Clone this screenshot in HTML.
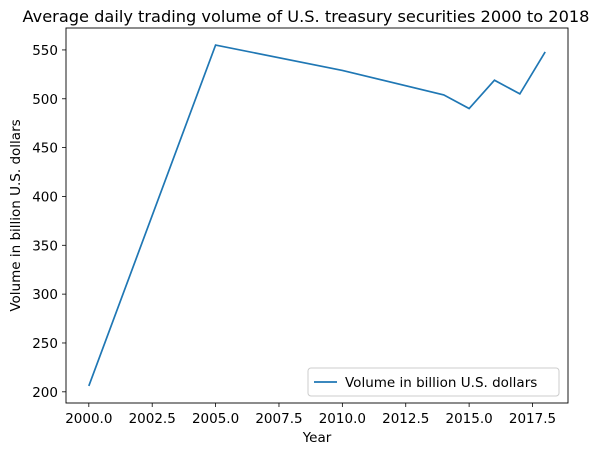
<!DOCTYPE html>
<html><head><meta charset="utf-8"><style>
body{margin:0;background:#fff;font-family:"DejaVu Sans","Liberation Sans",sans-serif}
svg text{font-family:"DejaVu Sans","Liberation Sans",sans-serif;fill:#000}
</style></head><body>
<svg id="chart" width="614" height="455" xmlns="http://www.w3.org/2000/svg"></svg>
<script>
const years=[2000,2005,2010,2014,2015,2016,2017,2018];
const volumes=[206,555,529,504,490,519,505,548];
const xTicks=[2000,2002.5,2005,2007.5,2010,2012.5,2015,2017.5];
const yTicks=[200,250,300,350,400,450,500,550];
const L=66,R=568,T=28,B=403;
const xmin=Math.min(...years),xmax=Math.max(...years),xm=(xmax-xmin)*0.05;
const ymin=Math.min(...volumes),ymax=Math.max(...volumes),ym=(ymax-ymin)*0.05;
const xs=v=>L+(v-(xmin-xm))/((xmax+xm)-(xmin-xm))*(R-L);
const ys=v=>B-(v-(ymin-ym))/((ymax+ym)-(ymin-ym))*(B-T);
const svg=document.getElementById('chart');
const NS='http://www.w3.org/2000/svg';
function mk(tag,attrs,parent){const e=document.createElementNS(NS,tag);for(const k in attrs)e.setAttribute(k,attrs[k]);(parent||svg).appendChild(e);return e;}
let t=mk('text',{x:(L+R)/2-11,y:22,'text-anchor':'middle','font-size':'16.2'});t.textContent='Average daily trading volume of U.S. treasury securities 2000 to 2018';


xTicks.forEach(v=>{const x=xs(v);
 const l=mk('line',{x1:x,x2:x,y1:B,y2:B+4,stroke:'#000','stroke-width':0.8});
 
 
 const tx=mk('text',{x:x,y:B+20,'text-anchor':'middle','font-size':'13.5'});tx.textContent=v.toFixed(1);
 
 });
yTicks.forEach(v=>{const y=ys(v);
 const l=mk('line',{x1:L-4,x2:L,y1:y,y2:y,stroke:'#000','stroke-width':0.8});
 
 
 const tx=mk('text',{x:L-8,y:y+5,'text-anchor':'end','font-size':'13.5'});tx.textContent=v;
 
 });
let xl=mk('text',{x:(L+R)/2,y:442,'text-anchor':'middle','font-size':'13.5'});xl.textContent='Year';


let yl=mk('text',{x:0,y:0,'text-anchor':'middle','font-size':'13.5',transform:`translate(20,${(T+B)/2}) rotate(-90)`});yl.textContent='Volume in billion U.S. dollars';


const line=mk('polyline',{points:years.map((y,i)=>xs(y)+','+ys(volumes[i])).join(' '),fill:'none',stroke:'#1f77b4','stroke-width':1.7});


const frame=mk('rect',{x:L,y:T,width:R-L,height:B-T,fill:'none',stroke:'#000','stroke-width':0.9});


const lg=mk('g',{});


mk('rect',{x:308,y:368,width:251,height:28,rx:3,fill:'#fff','fill-opacity':0.8,stroke:'#ccc','stroke-width':1},lg);
mk('line',{x1:314,x2:337,y1:382,y2:382,stroke:'#1f77b4','stroke-width':1.7},lg);
const lt=mk('text',{x:345,y:387,'font-size':'13.5'},lg);lt.textContent='Volume in billion U.S. dollars';
</script>
</body></html>
